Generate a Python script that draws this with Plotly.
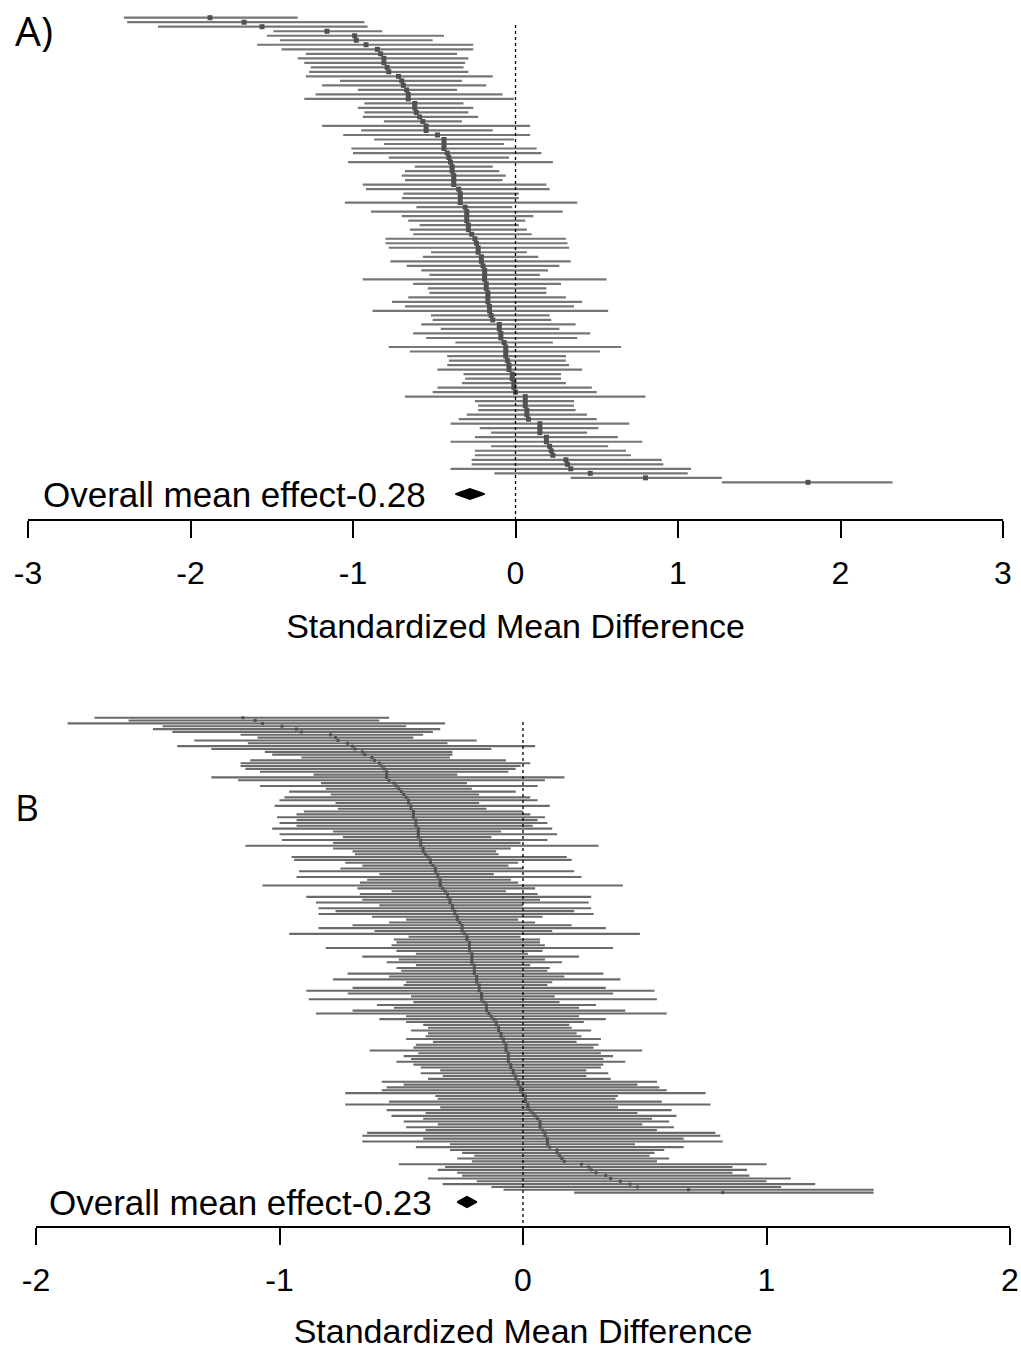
import plotly.graph_objects as go

# ---------------- Panel A: study effects (top to bottom) ----------------
a_est = [-1.88, -1.67, -1.56, -1.16, -0.99, -0.98, -0.92, -0.85, -0.83, -0.81,
         -0.81, -0.79, -0.78, -0.72, -0.70, -0.69, -0.67, -0.66, -0.66, -0.62,
         -0.62, -0.61, -0.59, -0.57, -0.55, -0.55, -0.48, -0.44, -0.44, -0.44,
         -0.42, -0.41, -0.40, -0.39, -0.39, -0.38, -0.38, -0.38, -0.35, -0.34,
         -0.34, -0.34, -0.31, -0.30, -0.30, -0.30, -0.29, -0.29, -0.27, -0.25,
         -0.24, -0.23, -0.23, -0.21, -0.21, -0.20, -0.19, -0.19, -0.19, -0.18,
         -0.18, -0.17, -0.17, -0.17, -0.16, -0.16, -0.15, -0.14, -0.10, -0.10,
         -0.09, -0.09, -0.07, -0.06, -0.06, -0.06, -0.05, -0.04, -0.04, -0.02,
         -0.02, -0.01, -0.01, 0.00, 0.06, 0.06, 0.06, 0.07, 0.07, 0.08,
         0.15, 0.15, 0.15, 0.19, 0.19, 0.21, 0.22, 0.23, 0.31, 0.32,
         0.34, 0.46, 0.80, 1.80]
a_lo = [-2.41, -2.39, -2.20, -1.49, -1.53, -1.45, -1.59, -1.44, -1.29, -1.34,
        -1.30, -1.26, -1.27, -1.29, -1.08, -1.19, -0.97, -1.23, -1.30, -0.93,
        -0.97, -0.93, -0.94, -0.81, -1.19, -0.95, -1.06, -0.87, -0.81, -1.01,
        -1.00, -0.78, -1.03, -0.62, -0.68, -0.70, -0.68, -0.94, -0.92, -0.69,
        -0.70, -1.05, -0.61, -0.89, -0.70, -0.66, -0.59, -0.65, -0.63, -0.80,
        -0.80, -0.78, -0.52, -0.57, -0.77, -0.67, -0.58, -0.53, -0.94, -0.63,
        -0.54, -0.53, -0.66, -0.76, -0.68, -0.88, -0.52, -0.51, -0.58, -0.46,
        -0.63, -0.55, -0.37, -0.78, -0.65, -0.42, -0.41, -0.42, -0.48, -0.32,
        -0.31, -0.33, -0.48, -0.51, -0.68, -0.25, -0.23, -0.23, -0.30, -0.35,
        -0.40, -0.22, -0.15, -0.25, -0.40, -0.15, -0.25, -0.25, -0.27, -0.27,
        -0.40, -0.13, 0.34, 1.27]
a_hi = [-1.34, -0.93, -0.91, -0.82, -0.44, -0.51, -0.26, -0.26, -0.36, -0.29,
        -0.31, -0.32, -0.29, -0.14, -0.33, -0.18, -0.36, -0.08, -0.01, -0.32,
        -0.26, -0.29, -0.23, -0.33, 0.09, -0.14, 0.09, -0.01, -0.07, 0.13,
        0.16, -0.04, 0.23, -0.14, -0.10, -0.06, -0.08, 0.19, 0.21, 0.02,
        0.02, 0.38, -0.02, 0.29, 0.11, 0.06, 0.02, 0.07, 0.10, 0.31,
        0.32, 0.33, 0.07, 0.14, 0.34, 0.27, 0.20, 0.15, 0.56, 0.28,
        0.19, 0.19, 0.31, 0.41, 0.36, 0.57, 0.21, 0.22, 0.37, 0.27,
        0.46, 0.38, 0.23, 0.65, 0.52, 0.31, 0.31, 0.33, 0.41, 0.28,
        0.28, 0.31, 0.47, 0.50, 0.80, 0.36, 0.36, 0.37, 0.44, 0.50,
        0.70, 0.51, 0.44, 0.63, 0.78, 0.57, 0.68, 0.71, 0.90, 0.91,
        1.08, 1.06, 1.27, 2.32]
a_overall = {"est": -0.28, "lo": -0.37, "hi": -0.19}

# ---------------- Panel B: study effects (top to bottom) ----------------
b_est = [-1.15, -1.10, -1.07, -0.99, -0.93, -0.91, -0.79, -0.77, -0.76, -0.72,
         -0.70, -0.69, -0.66, -0.65, -0.62, -0.61, -0.59, -0.58, -0.57, -0.56,
         -0.56, -0.56, -0.55, -0.53, -0.52, -0.51, -0.50, -0.49, -0.48, -0.47,
         -0.47, -0.46, -0.46, -0.45, -0.45, -0.45, -0.44, -0.44, -0.44, -0.43,
         -0.43, -0.43, -0.43, -0.42, -0.42, -0.42, -0.41, -0.41, -0.40, -0.39,
         -0.38, -0.38, -0.37, -0.36, -0.36, -0.35, -0.35, -0.34, -0.34, -0.34,
         -0.33, -0.32, -0.31, -0.31, -0.30, -0.30, -0.29, -0.29, -0.28, -0.28,
         -0.27, -0.27, -0.26, -0.25, -0.25, -0.25, -0.24, -0.23, -0.23, -0.22,
         -0.22, -0.22, -0.22, -0.21, -0.21, -0.21, -0.21, -0.20, -0.20, -0.20,
         -0.20, -0.19, -0.19, -0.19, -0.18, -0.18, -0.18, -0.17, -0.17, -0.17,
         -0.16, -0.15, -0.15, -0.15, -0.14, -0.13, -0.12, -0.11, -0.11, -0.10,
         -0.10, -0.09, -0.09, -0.08, -0.08, -0.07, -0.07, -0.07, -0.06, -0.06,
         -0.06, -0.06, -0.05, -0.05, -0.04, -0.04, -0.03, -0.03, -0.02, -0.02,
         -0.01, -0.01, 0.00, 0.01, 0.01, 0.01, 0.02, 0.02, 0.03, 0.04,
         0.05, 0.06, 0.07, 0.07, 0.07, 0.08, 0.09, 0.09, 0.10, 0.10,
         0.10, 0.11, 0.14, 0.14, 0.15, 0.16, 0.17, 0.24, 0.27, 0.28,
         0.30, 0.34, 0.36, 0.40, 0.44, 0.47, 0.68, 0.82]
b_lo = [-1.76, -1.62, -1.87, -1.48, -1.52, -1.44, -1.16, -1.09, -1.35, -1.13,
        -1.42, -1.28, -1.06, -1.03, -0.91, -1.12, -1.16, -1.16, -1.14, -1.08,
        -0.86, -1.28, -1.17, -0.83, -1.08, -0.81, -0.96, -0.79, -0.98, -1.00,
        -0.77, -1.02, -0.76, -0.90, -0.93, -1.01, -0.93, -1.00, -0.93, -1.03,
        -0.78, -1.00, -0.74, -0.99, -0.78, -1.14, -0.78, -0.70, -0.69, -0.95,
        -0.94, -0.73, -0.66, -0.75, -0.92, -0.59, -0.93, -0.64, -0.67, -1.07,
        -0.68, -0.54, -0.67, -0.89, -0.66, -0.85, -0.59, -0.84, -0.77, -0.84,
        -0.62, -0.48, -0.55, -0.70, -0.84, -0.61, -0.96, -0.47, -0.53, -0.52,
        -0.54, -0.81, -0.52, -0.44, -0.66, -0.51, -0.56, -0.44, -0.52, -0.50,
        -0.72, -0.55, -0.78, -0.48, -0.49, -0.70, -0.89, -0.72, -0.46, -0.88,
        -0.45, -0.60, -0.53, -0.70, -0.85, -0.48, -0.59, -0.48, -0.41, -0.39,
        -0.46, -0.39, -0.40, -0.48, -0.37, -0.44, -0.45, -0.63, -0.43, -0.49,
        -0.46, -0.52, -0.45, -0.42, -0.34, -0.42, -0.33, -0.39, -0.58, -0.49,
        -0.56, -0.58, -0.73, -0.36, -0.35, -0.55, -0.73, -0.34, -0.56, -0.40,
        -0.54, -0.41, -0.49, -0.35, -0.48, -0.40, -0.64, -0.66, -0.41, -0.66,
        -0.30, -0.44, -0.30, -0.25, -0.20, -0.27, -0.21, -0.51, -0.32, -0.35,
        -0.27, -0.25, -0.39, -0.19, -0.33, -0.13, -0.08, 0.21]
b_hi = [-0.55, -0.59, -0.32, -0.48, -0.34, -0.37, -0.41, -0.45, -0.19, -0.31,
        0.05, -0.13, -0.29, -0.29, -0.30, -0.07, 0.03, -0.01, -0.03, -0.06,
        -0.27, 0.17, 0.09, -0.23, 0.06, -0.21, -0.03, -0.18, 0.03, 0.06,
        -0.18, 0.11, -0.15, 0.00, 0.03, 0.09, 0.06, 0.10, 0.04, 0.12,
        -0.09, 0.14, -0.13, 0.10, -0.01, 0.31, -0.05, -0.11, -0.10, 0.18,
        0.20, -0.02, -0.06, 0.00, 0.21, -0.12, 0.24, -0.05, -0.02, 0.41,
        0.05, -0.07, 0.06, 0.28, 0.07, 0.27, 0.00, 0.28, 0.21, 0.29,
        0.08, -0.02, 0.05, 0.20, 0.34, 0.12, 0.48, -0.01, 0.07, 0.07,
        0.09, 0.37, 0.08, 0.02, 0.23, 0.09, 0.16, 0.03, 0.11, 0.10,
        0.33, 0.17, 0.40, 0.12, 0.10, 0.34, 0.54, 0.37, 0.13, 0.55,
        0.15, 0.30, 0.23, 0.42, 0.59, 0.23, 0.34, 0.25, 0.19, 0.20,
        0.28, 0.22, 0.24, 0.32, 0.22, 0.31, 0.29, 0.49, 0.32, 0.37,
        0.33, 0.42, 0.33, 0.32, 0.26, 0.35, 0.26, 0.36, 0.55, 0.47,
        0.56, 0.59, 0.75, 0.39, 0.38, 0.57, 0.77, 0.39, 0.61, 0.47,
        0.63, 0.53, 0.60, 0.49, 0.62, 0.55, 0.79, 0.81, 0.66, 0.82,
        0.46, 0.66, 0.58, 0.54, 0.52, 0.60, 0.55, 1.00, 0.86, 0.92,
        0.86, 0.93, 1.10, 1.00, 1.20, 1.06, 1.44, 1.44]
b_overall = {"est": -0.23, "lo": -0.27, "hi": -0.19}

a_ticks = [-3, -2, -1, 0, 1, 2, 3]
b_ticks = [-2, -1, 0, 1, 2]
x_title = "Standardized Mean Difference"

FONT = "Liberation Sans, Arial, sans-serif"
LETTER_FONT = "Open Sans, Noto Sans, sans-serif"
LINE_GREY_A = "#767676"
LINE_GREY_B = "#6a6a6a"
MARK_GREY = "#505050"

W, H = 1021, 1350


def px_y(p):
    """Convert a pixel row (from the top) to paper y."""
    return 1 - p / H


def add_forest(fig, est, lo, hi, overall, xa, ya, lw, lcolor, msize, diam_half, ref_top):
    n = len(est)
    rows = list(range(1, n + 1))
    seg_x, seg_y = [], []
    for r, l, h in zip(rows, lo, hi):
        seg_x += [l, h, None]
        seg_y += [r, r, None]
    fig.add_trace(go.Scatter(x=seg_x, y=seg_y, mode="lines",
                             line=dict(color=lcolor, width=lw),
                             xaxis=xa, yaxis=ya, hoverinfo="skip", showlegend=False))
    fig.add_trace(go.Scatter(x=est, y=rows, mode="markers",
                             marker=dict(symbol="square", size=msize, color=MARK_GREY,
                                         line=dict(width=0)),
                             xaxis=xa, yaxis=ya, showlegend=False))
    # summary diamond
    yd = overall["row"]
    fig.add_trace(go.Scatter(
        x=[overall["lo"], overall["est"], overall["hi"], overall["est"], overall["lo"]],
        y=[yd, yd - diam_half, yd, yd + diam_half, yd],
        mode="lines", fill="toself", fillcolor="black",
        line=dict(color="black", width=1.5),
        xaxis=xa, yaxis=ya, hoverinfo="skip", showlegend=False))
    # dotted reference line at zero
    fig.add_shape(type="line", x0=0, x1=0, y0=ref_top, y1=overall["bottom"],
                  xref=xa, yref=ya, line=dict(color="black", width=1.3, dash="dot"))


fig = go.Figure()

# Panel A geometry (rows spaced evenly)
a_row0, a_step = 17.7, 4.511
a_bottom = 1 + (519 - a_row0) / a_step
a_top = 1 + (10 - a_row0) / a_step
a_overall["row"] = 1 + (494 - a_row0) / a_step
a_overall["bottom"] = a_bottom
add_forest(fig, a_est, a_lo, a_hi, a_overall, "x", "y", 2.2, LINE_GREY_A, 5, 1.15,
           1 + (25 - a_row0) / a_step)

# Panel B geometry
b_row0, b_step = 717.7, 2.844
b_bottom = 1 + (1226 - b_row0) / b_step
b_top = 1 + (705 - b_row0) / b_step
b_overall["row"] = 1 + (1202 - b_row0) / b_step
b_overall["bottom"] = b_bottom
add_forest(fig, b_est, b_lo, b_hi, b_overall, "x2", "y2", 2.1, LINE_GREY_B, 3, 1.9,
           1 + (722 - b_row0) / b_step)

axis_common = dict(showgrid=False, zeroline=False, showline=True, linecolor="black",
                   linewidth=1.5, ticks="outside", ticklen=17, tickwidth=1.5,
                   tickcolor="black", ticklabelstandoff=8,
                   tickfont=dict(family=FONT, size=32, color="black"),
                   automargin=False, fixedrange=True)

fig.update_layout(
    template="none",
    width=W, height=H, margin=dict(l=0, r=0, t=0, b=0, pad=0),
    paper_bgcolor="white", plot_bgcolor="white", showlegend=False,
    xaxis=dict(domain=[28 / W, 1003 / W], range=[-3, 3], anchor="y",
               tickvals=a_ticks, ticktext=[str(t) for t in a_ticks],
               title=dict(text=x_title, font=dict(family=FONT, size=34, color="black"),
                          standoff=24),
               **axis_common),
    yaxis=dict(domain=[px_y(519), px_y(10)], range=[a_bottom, a_top], anchor="x",
               visible=False, fixedrange=True, automargin=False),
    xaxis2=dict(domain=[36 / W, 1010 / W], range=[-2, 2], anchor="y2",
                tickvals=b_ticks, ticktext=[str(t) for t in b_ticks],
                title=dict(text=x_title, font=dict(family=FONT, size=34, color="black"),
                           standoff=24),
                **axis_common),
    yaxis2=dict(domain=[px_y(1226), px_y(705)], range=[b_bottom, b_top], anchor="x2",
                visible=False, fixedrange=True, automargin=False),
)

# overall-effect labels next to the diamonds
fig.add_annotation(x=-0.54, y=a_overall["row"], xref="x", yref="y",
                   text=f"Overall mean effect{a_overall['est']:.2f}",
                   showarrow=False, xanchor="right", yanchor="middle",
                   font=dict(family=FONT, size=35, color="black"))
fig.add_annotation(x=-0.365, y=b_overall["row"], xref="x2", yref="y2",
                   text=f"Overall mean effect{b_overall['est']:.2f}",
                   showarrow=False, xanchor="right", yanchor="middle",
                   font=dict(family=FONT, size=35, color="black"))

# panel letters
fig.add_annotation(x=13 / W, y=px_y(30), xref="paper", yref="paper", text="A)",
                   showarrow=False, xanchor="left", yanchor="middle",
                   font=dict(family=LETTER_FONT, size=41, color="black"))
fig.add_annotation(x=13 / W, y=px_y(806), xref="paper", yref="paper", text="B",
                   showarrow=False, xanchor="left", yanchor="middle",
                   font=dict(family=LETTER_FONT, size=37, color="black"))

fig.write_html("out.html")
